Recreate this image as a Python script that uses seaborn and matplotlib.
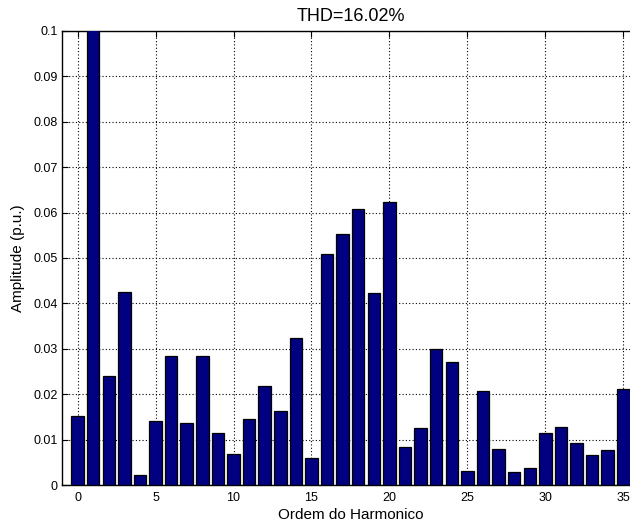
import matplotlib
matplotlib.use("Agg")
import matplotlib.pyplot as plt
import seaborn as sns
import numpy as np
import pandas as pd

# Harmonic spectrum (amplitudes in p.u. of the fundamental)
orders = list(range(36))
amplitudes = [0.0152, 1.0, 0.0240, 0.0426, 0.0021, 0.0141, 0.0284, 0.0136,
              0.0284, 0.0114, 0.0068, 0.0145, 0.0219, 0.0162, 0.0323, 0.0059,
              0.0509, 0.0552, 0.0607, 0.0422, 0.0624, 0.0084, 0.0126, 0.0299,
              0.0270, 0.0030, 0.0207, 0.0079, 0.0028, 0.0038, 0.0114, 0.0128,
              0.0093, 0.0067, 0.0077, 0.0211]
x_ticks = [0, 5, 10, 15, 20, 25, 30, 35]
y_ticks = [0, 0.01, 0.02, 0.03, 0.04, 0.05, 0.06, 0.07, 0.08, 0.09, 0.1]
y_tick_labels = ["0", "0.01", "0.02", "0.03", "0.04", "0.05", "0.06",
                 "0.07", "0.08", "0.09", "0.1"]
title = "THD=16.02%"

sns.set_style("white")
plt.rcParams["font.family"] = ["Liberation Sans", "DejaVu Sans"]
plt.rcParams["text.color"] = "black"
plt.rcParams["axes.labelcolor"] = "black"

df = pd.DataFrame({"ordem": orders, "amp": amplitudes})

fig = plt.figure(figsize=(6.3, 5.28), dpi=100)
ax = fig.add_axes([0.0984, 0.0814, 0.9157, 0.86])

sns.barplot(data=df, x="ordem", y="amp", native_scale=True, width=0.8,
            color="#000080", saturation=1, edgecolor="black", linewidth=0.9,
            ax=ax, zorder=3)

ax.set_xlim(-1, 36)
ax.set_ylim(0, 0.1)
ax.set_xticks(x_ticks)
ax.set_xticklabels([str(t) for t in x_ticks])
ax.set_yticks(y_ticks)
ax.set_yticklabels(y_tick_labels)

ax.grid(True, linestyle=(0, (1, 2)), color="black", linewidth=0.8, zorder=0)
ax.set_axisbelow(True)
for side in ["left", "bottom", "top", "right"]:
    ax.spines[side].set_visible(True)
    ax.spines[side].set_color("black")
    ax.spines[side].set_linewidth(1.0)

ax.tick_params(direction="in", length=4, width=0.8, labelsize=9, colors="black",
               top=True, right=True, bottom=True, left=True)
ax.tick_params(axis="x", pad=5)
ax.tick_params(axis="y", pad=3)

ax.set_title(title, fontsize=13, pad=7, color="black")
ax.set_xlabel("Ordem do Harmonico", fontsize=11, labelpad=3, color="black")
ax.set_ylabel("Amplitude (p.u.)", fontsize=11, labelpad=6, color="black")

fig.savefig("out.png", dpi=100, facecolor="white")
